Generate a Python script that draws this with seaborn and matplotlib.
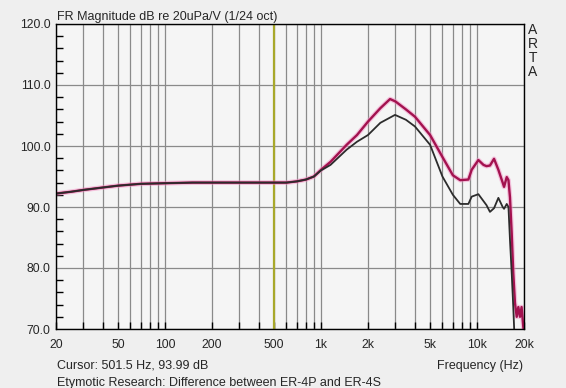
import pandas as pd
import matplotlib.pyplot as plt
import seaborn as sns

# Frequency response (Hz, dB re 20uPa/V)
freq_4s = [20, 25, 30, 40, 50, 70, 100, 150, 200, 300, 400, 500, 600, 700, 800, 900,
           1000, 1150, 1460, 1700, 2000, 2400, 2770, 3000, 3500, 4000, 5000, 6000,
           7000, 7800, 8800, 9240, 10200, 11000, 11500, 12100, 12850, 13700, 14600,
           14900, 15500, 15900, 16260, 16680, 17070, 17500, 17960, 18400, 18850,
           19300, 19800, 20000]
db_4s = [92.2, 92.5, 92.8, 93.2, 93.5, 93.8, 93.9, 94.0, 94.0, 94.0, 94.0, 94.0, 94.0,
         94.2, 94.5, 95.0, 96.1, 97.4, 100.2, 101.8, 104.0, 106.2, 107.7, 107.3, 106.0,
         104.8, 101.8, 98.2, 95.2, 94.4, 94.5, 96.1, 97.7, 96.9, 96.7, 96.8, 97.9, 96.1,
         94.0, 93.3, 94.9, 94.4, 91.6, 85.7, 79.2, 74.3, 72.0, 73.6, 72.0, 73.6, 70.3,
         69.5]

freq_4p = [20, 25, 30, 40, 50, 70, 100, 150, 200, 300, 400, 500, 600, 700, 800, 900,
           1000, 1150, 1460, 1700, 2000, 2400, 2980, 3500, 4000, 5000, 6000, 7000,
           7800, 8800, 9240, 10200, 11500, 12100, 12850, 13700, 14600, 14900, 15500,
           15900, 16260, 16680, 17070, 17300, 17600]
db_4p = [92.2, 92.5, 92.8, 93.2, 93.5, 93.8, 93.9, 94.0, 94.0, 94.0, 94.0, 94.0, 94.0,
         94.2, 94.5, 95.0, 96.0, 96.9, 99.4, 100.7, 101.8, 103.8, 105.1, 104.3, 103.2,
         100.2, 95.0, 92.0, 90.5, 90.5, 91.7, 92.1, 90.3, 89.2, 89.8, 91.5, 90.0, 89.7,
         90.5, 90.0, 84.6, 79.2, 73.6, 70.0, 65.0]

major_ticks = [20, 50, 100, 200, 500, 1000, 2000, 5000, 10000, 20000]
major_labels = ['20', '50', '100', '200', '500', '1k', '2k', '5k', '10k', '20k']
minor_ticks = [30, 40, 60, 70, 80, 90, 300, 400, 600, 700, 800, 900,
               3000, 4000, 6000, 7000, 8000, 9000]
db_ticks = [70, 80, 90, 100, 110, 120]

df_4s = pd.DataFrame({'freq': freq_4s, 'db': db_4s})
df_4p = pd.DataFrame({'freq': freq_4p, 'db': db_4p})

sns.set_style('white')
plt.rcParams['font.family'] = ['Liberation Sans', 'DejaVu Sans']

fig = plt.figure(figsize=(5.66, 3.88), dpi=100, facecolor='#efefef')
ax = fig.add_axes([56 / 566, 59 / 388, 468 / 566, 305 / 388])
ax.set_facecolor('#f5f5f5')
ax.set_xscale('log')
ax.set_xlim(20, 20000)
ax.set_ylim(70, 120)

# grid
ax.set_xticks(major_ticks)
ax.set_xticklabels(major_labels)
ax.set_xticks(minor_ticks, minor=True)
ax.set_yticks(db_ticks)
ax.set_yticklabels([f'{v:.1f}' for v in db_ticks])
ax.set_yticks(range(70, 121, 2), minor=True)
ax.grid(True, axis='x', which='both', color='#8a8a8a', lw=0.9)
ax.grid(True, axis='y', which='major', color='#8a8a8a', lw=0.9)
ax.set_axisbelow(True)

ax.axvline(501.5, color='#a8a82a', lw=1.6, zorder=1.5)

# curves (pink glow under the magenta trace)
sns.lineplot(data=df_4s, x='freq', y='db', color='#f28cc2', lw=3.4, alpha=0.5, ax=ax, sort=False)
sns.lineplot(data=df_4s, x='freq', y='db', color='#a3124f', lw=1.7, ax=ax, sort=False)
sns.lineplot(data=df_4p, x='freq', y='db', color='#2c2c2c', lw=1.3, ax=ax, sort=False)

ax.set_xlabel('')
ax.set_ylabel('')
for s in ax.spines.values():
    s.set_color('black')
    s.set_linewidth(1.0)

ax.tick_params(axis='x', which='both', direction='in', length=5, width=1, color='black',
               labelsize=8.8, pad=7, bottom=True, top=False)
ax.tick_params(axis='y', which='major', direction='in', length=0, labelsize=8.8, pad=4, left=True)
ax.tick_params(axis='y', which='minor', direction='in', length=5, width=1, color='black', left=True)

fig.text(57 / 566, 1 - 17 / 388, 'FR Magnitude dB re 20uPa/V (1/24 oct)', fontsize=9, va='center')
fig.text(533 / 566, 1 - 51 / 388, 'A\nR\nT\nA', fontsize=10, ha='center', va='center', linespacing=0.98)
fig.text(57 / 566, 1 - 366 / 388, 'Cursor: 501.5 Hz, 93.99 dB', fontsize=9, va='center')
fig.text(523 / 566, 1 - 366 / 388, 'Frequency (Hz)', fontsize=9, va='center', ha='right')
fig.text(57 / 566, 1 - 383 / 388, 'Etymotic Research: Difference between ER-4P and ER-4S',
         fontsize=9, va='center')

fig.savefig('out.png', dpi=100, facecolor=fig.get_facecolor())
